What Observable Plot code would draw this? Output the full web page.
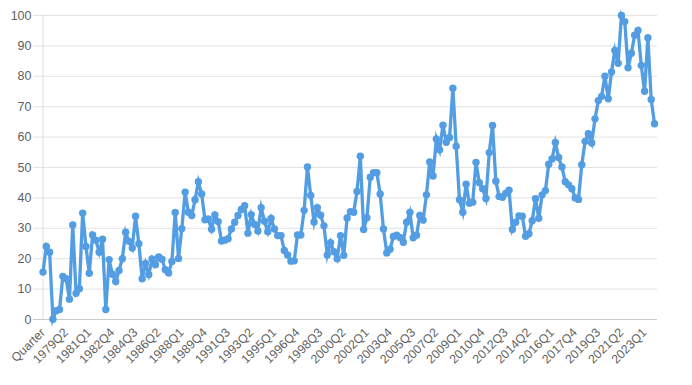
<!DOCTYPE html>
<html>
<head>
<meta charset="utf-8">
<script src="https://cdn.jsdelivr.net/npm/d3@7"></script>
<script src="https://cdn.jsdelivr.net/npm/@observablehq/plot@0.6"></script>
<style>
  html, body { margin: 0; padding: 0; background: #fff; }
  #chart { width: 692px; height: 385px; }
</style>
</head>
<body>
<div id="chart"></div>
<script>
// First quarter of the series and the quarterly values
const startYear = 1977;
const startQuarter = 3;
const values = [
  15.6, 24.0, 22.1, 0.1, 2.9, 3.3, 14.2, 13.4, 6.7, 31.1,
  8.6, 10.1, 35.0, 24.0, 15.2, 27.8, 26.1, 22.1, 26.4, 3.3,
  19.7, 14.9, 12.5, 16.1, 20.0, 28.7, 25.7, 23.5, 34.0, 24.9,
  13.4, 18.4, 14.8, 19.9, 18.0, 20.6, 19.8, 16.4, 15.3, 19.1,
  35.2, 20.1, 29.9, 41.9, 35.3, 34.2, 39.4, 45.3, 41.3, 32.8,
  33.1, 29.7, 34.4, 32.2, 25.8, 26.1, 26.6, 29.8, 32.0, 34.2,
  36.2, 37.4, 28.4, 34.5, 31.3, 29.1, 36.8, 32.3, 28.9, 33.2,
  29.8, 27.6, 27.6, 22.7, 21.2, 19.2, 19.3, 27.8, 27.8, 35.9,
  50.2, 40.8, 32.1, 36.8, 34.3, 30.8, 21.2, 25.3, 22.3, 20.0,
  27.6, 21.1, 33.4, 35.5, 35.3, 42.1, 53.7, 29.6, 33.5, 46.8,
  48.3, 48.3, 41.3, 29.8, 21.9, 23.1, 27.3, 27.7, 27.0, 25.4,
  32.0, 35.2, 26.9, 27.7, 34.2, 32.7, 41.0, 51.8, 47.2, 59.4,
  55.8, 63.9, 58.3, 59.9, 76.1, 57.0, 39.4, 35.3, 44.5, 38.2,
  38.6, 51.7, 45.0, 43.0, 39.8, 54.9, 63.8, 45.5, 40.5, 40.2,
  41.5, 42.5, 29.6, 32.0, 34.1, 34.0, 27.4, 28.2, 32.5, 39.7,
  33.3, 41.0, 42.4, 51.1, 52.8, 58.2, 53.3, 50.2, 45.3, 44.3,
  43.0, 40.0, 39.5, 50.9, 58.6, 61.1, 58.1, 66.0, 72.0, 73.4,
  80.0, 72.6, 81.4, 88.5, 84.3, 100.0, 98.0, 82.8, 87.6, 93.5,
  95.1, 83.6, 75.1, 92.7, 72.4, 64.4
];
const tickLabels = [
  "Quarter", "1979Q2", "1981Q1", "1982Q4", "1984Q3", "1986Q2", "1988Q1",
  "1989Q4", "1991Q3", "1993Q2", "1995Q1", "1996Q4", "1998Q3", "2000Q2",
  "2002Q1", "2003Q4", "2005Q3", "2007Q2", "2009Q1", "2010Q4", "2012Q3",
  "2014Q2", "2016Q1", "2017Q4", "2019Q3", "2021Q2", "2023Q1"
];
const yTicks = [0, 10, 20, 30, 40, 50, 60, 70, 80, 90, 100];
const tickStep = 7;

// category labels (quarters) for each value
const categories = values.map((_, i) => {
  const q0 = (startQuarter - 1) + i;
  return (startYear + Math.floor(q0 / 4)) + "Q" + ((q0 % 4) + 1);
});
const data = categories.map((q, i) => ({q, v: values[i]}));
const tickCats = tickLabels.map((_, k) => categories[k * tickStep]);
const labelOf = new Map(tickCats.map((c, k) => [c, tickLabels[k]]));

const color = "#539de3";

const chart = Plot.plot({
  width: 692,
  height: 385,
  marginTop: 15,
  marginBottom: 66,
  marginLeft: 33,
  marginRight: 35,
  style: {fontFamily: "'Liberation Sans', Arial, sans-serif", fontSize: "12px", background: "#fff"},
  x: {type: "point", domain: categories, padding: 0, insetLeft: 9.5, insetRight: 3, axis: null},
  y: {domain: [0, 100], axis: null},
  marks: [
    Plot.ruleY(yTicks.filter(d => d !== 0), {stroke: "#e2e2e2", strokeWidth: 1}),
    Plot.ruleX([categories[0]], {y1: 0, y2: 100, stroke: "#dcdcdc"}),
    Plot.ruleY([0], {stroke: "#c9c9c9", strokeWidth: 1}),
    Plot.axisY({ticks: yTicks, tickSize: 0, tickPadding: 2, fontSize: 12.5, fill: "#5f5f5f", label: null}),
    Plot.axisX({ticks: tickCats, tickFormat: d => labelOf.get(d), tickRotate: -45, tickSize: 0, tickPadding: 11, fontSize: 12.3, fill: "#5f5f5f", label: null}),
    Plot.line(data, {x: "q", y: "v", stroke: color, strokeWidth: 3.3, strokeLinejoin: "miter", strokeMiterlimit: 6}),
    Plot.dot(data, {x: "q", y: "v", r: 3.7, fill: color, stroke: null})
  ]
});
document.getElementById("chart").appendChild(chart);
</script>
</body>
</html>
